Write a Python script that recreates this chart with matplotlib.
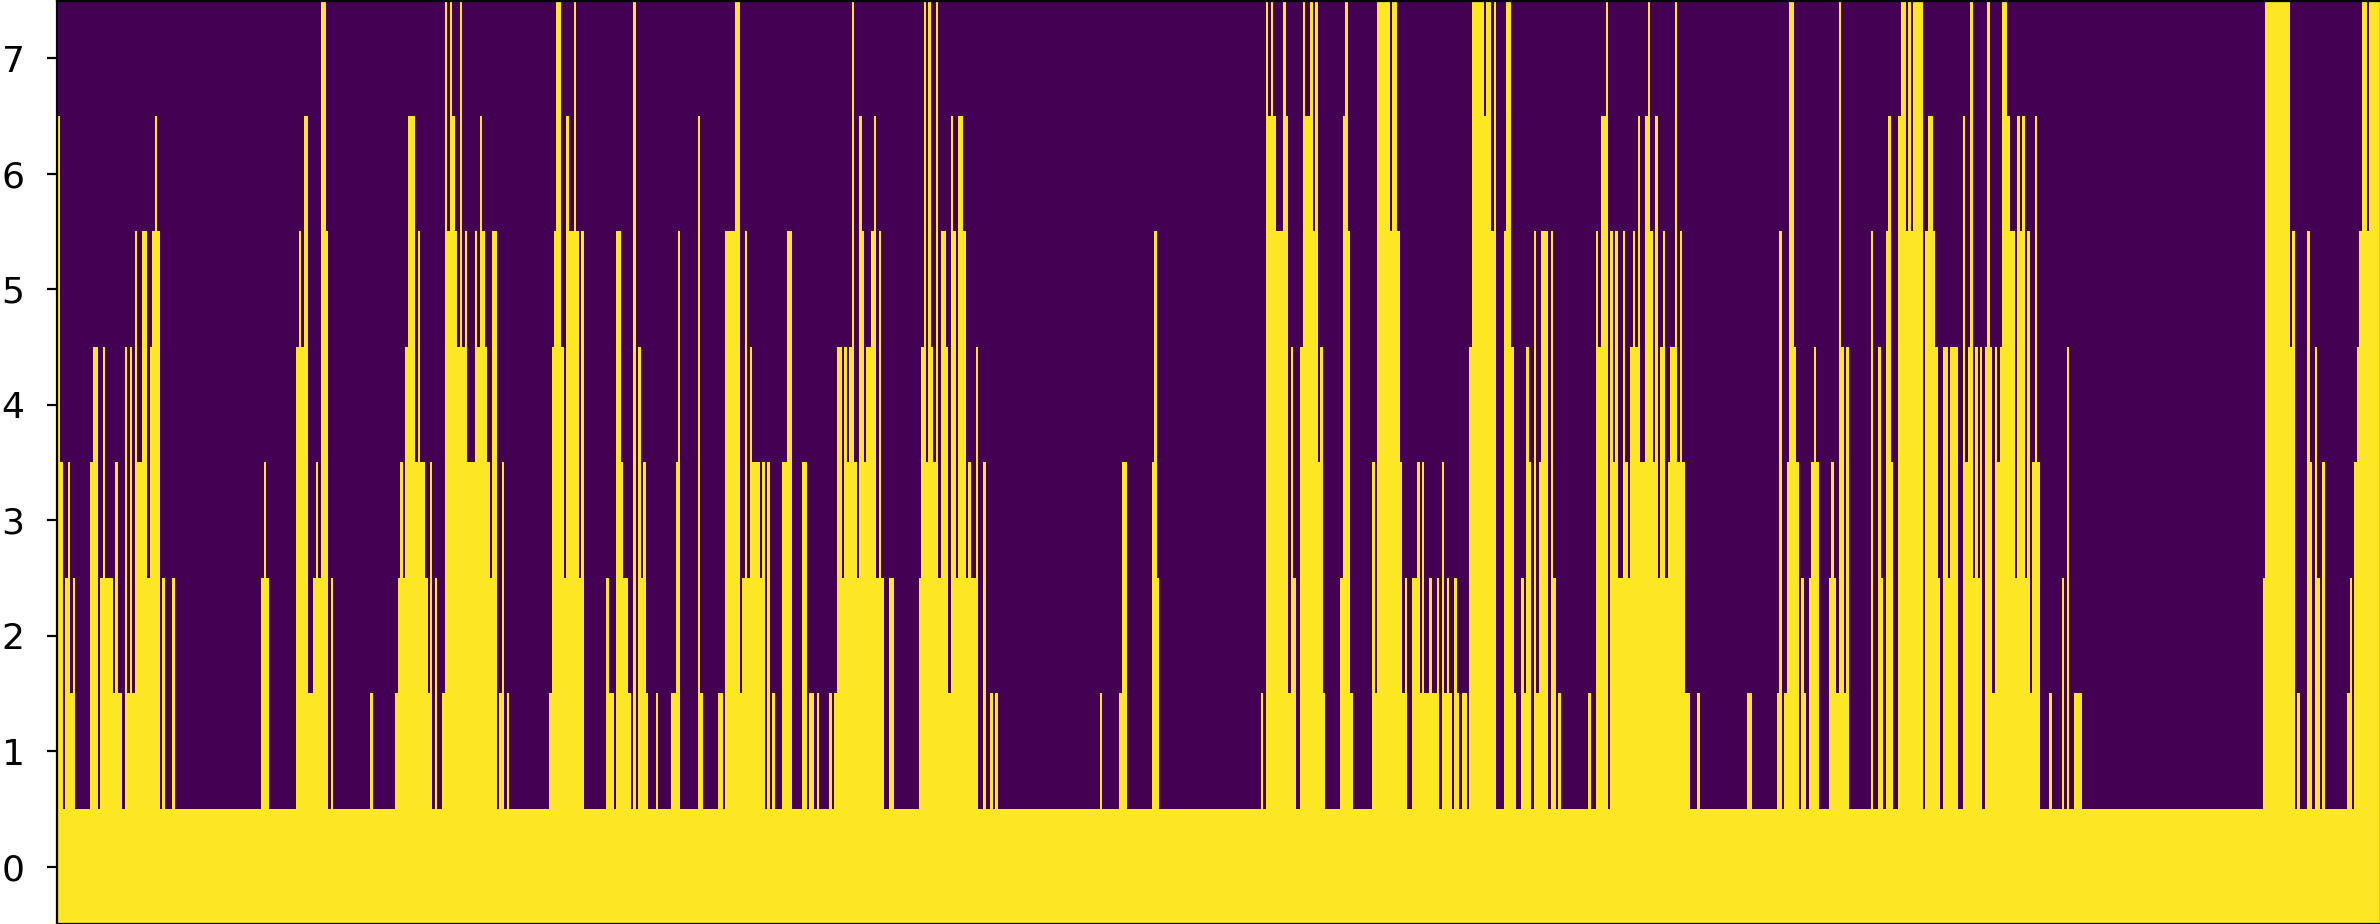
import matplotlib
matplotlib.use("Agg")
import matplotlib.pyplot as plt
import numpy as np

N_COLS = 937
N_ROWS = 8

# first column of each run, and how many rows are filled in that run
run_starts = [
    0, 1, 2, 3, 4, 5, 6, 7, 13, 14, 16, 17, 18, 19, 22, 23, 24, 26, 27, 28, 29, 30, 31, 32, 34, 36, 37, 38, 39, 40, 41, 42, 43, 46, 47,
    82, 83, 84, 85, 96, 97, 98, 99, 101, 103, 104, 105, 106, 108, 109, 110, 111, 126, 127, 136, 137, 138, 139, 140, 141, 144, 145, 146, 148, 149, 150, 151, 152, 153, 155, 156, 157,
    158, 159, 160, 161, 162, 163, 164, 165, 168, 169, 170, 171, 172, 173, 174, 175, 177, 178, 179, 180, 181, 182, 198, 199, 200, 201, 203, 204, 205, 206, 208, 209, 210, 211, 212, 221, 222, 224, 225, 227, 228, 230, 231, 232, 233, 234, 235, 236, 237, 238,
    241, 242, 247, 249, 250, 251, 258, 259, 260, 266, 268, 269, 273, 275, 276, 277, 278, 279, 280, 283, 284, 285, 286, 287, 288, 289, 292, 294, 296, 300, 302, 303, 305, 306, 307, 311, 312, 313, 314, 316, 317, 318, 319,
    320, 321, 322, 323, 324, 325, 326, 328, 329, 330, 331, 332, 333, 335, 337, 347, 348, 349, 350, 351, 352, 353, 354, 355, 356, 358, 359, 360, 361, 362, 363, 365, 366, 367, 368, 370, 371, 373, 374, 376, 377, 378, 379,
    420, 421, 428, 429, 431, 441, 442, 443, 444,
    485, 486, 487, 488, 489, 490, 491, 494, 495, 496, 497, 498, 499, 501, 502, 503, 505, 506, 507, 508, 509, 510, 511, 517, 518, 519, 520, 521, 522, 530, 531, 532, 537, 538, 540, 541, 542, 543, 544, 546, 548, 549, 550, 551, 553, 554, 556, 557, 558, 559, 560, 561,
    562, 563, 564, 565, 566, 568, 569, 570, 575, 576, 578, 579, 580, 583, 584, 586, 587, 588, 590, 591, 592, 593, 594, 595, 596, 597, 598, 601, 602, 603, 604, 605, 606, 617, 618, 620, 621, 622, 624, 625, 626, 627, 628, 629, 631, 632, 633, 634, 635, 636, 637, 638, 640, 641,
    642, 643, 644, 645, 646, 647, 648, 649, 650, 652, 653, 654, 655, 656, 658, 661, 662, 681, 683, 693, 694, 695, 696, 697, 698, 700, 701, 702, 703, 704, 705, 706, 707, 708, 709, 710, 714, 715, 716, 717, 718, 719, 720, 721, 722,
    731, 732, 734, 735, 736, 737, 738, 739, 740, 742, 743, 745, 746, 747, 748, 752, 753, 754, 756, 757, 758, 759, 760, 762, 763, 766, 768, 769, 770, 771, 772, 773, 774, 775, 776, 777, 778, 779, 780, 781, 782, 783, 784, 786, 787, 789, 790, 791, 792, 793, 794, 795, 796, 797, 798, 799, 803,
    804, 808, 809, 810, 811, 813, 816,
    889, 890, 900, 901, 902, 903, 904, 907, 908, 909, 910, 911, 912, 913, 914, 923, 924, 925, 926, 927, 928, 929, 931, 932,
]
run_heights = [
    7, 4, 1, 3, 4, 2, 3, 1, 4, 5, 1, 3, 5, 3, 2, 4, 2, 1, 5, 2, 5, 2, 6, 4, 6, 3, 5, 6, 7, 6, 1, 3, 1, 3, 1,
    3, 4, 3, 1, 5, 6, 5, 7, 2, 3, 4, 3, 8, 6, 1, 3, 1, 2, 1, 2, 3, 4, 3, 5, 7, 4, 6, 4, 3, 2, 4, 1, 3, 1, 2, 8, 6,
    8, 7, 6, 5, 8, 5, 6, 4, 6, 5, 7, 6, 5, 4, 3, 6, 1, 2, 4, 1, 2, 1, 2, 5, 6, 8, 5, 3, 7, 6, 8, 6, 3, 6, 1, 3, 2, 1, 6, 4, 3, 2, 1, 8, 1, 5, 3, 4, 2, 1,
    2, 1, 2, 4, 6, 1, 7, 2, 1, 2, 1, 6, 8, 2, 3, 6, 3, 5, 4, 3, 4, 1, 4, 1, 2, 1, 4, 6, 1, 4, 1, 2, 1, 2, 1, 2, 1, 2, 5, 3, 5, 4, 5,
    8, 4, 3, 7, 6, 4, 5, 6, 7, 3, 6, 3, 1, 3, 1, 3, 5, 8, 4, 8, 5, 4, 8, 3, 6, 5, 2, 7, 6, 3, 7, 6, 3, 4, 3, 5, 1, 4, 1, 2, 1, 2, 1,
    2, 1, 2, 4, 1, 4, 6, 3, 1,
    2, 1, 8, 7, 8, 7, 6, 8, 7, 2, 5, 3, 1, 5, 8, 7, 8, 6, 8, 4, 5, 2, 1, 3, 7, 8, 6, 2, 1, 4, 2, 8, 6, 8, 6, 4, 2, 3, 1, 3, 4, 2, 4, 2, 3, 2, 3, 1, 4, 2, 3, 2,
    1, 3, 2, 1, 2, 1, 5, 8, 7, 8, 6, 8, 1, 6, 8, 5, 2, 1, 3, 2, 5, 4, 1, 6, 2, 4, 6, 1, 6, 3, 1, 2, 1, 2, 1, 6, 5, 7, 8, 1, 6, 4, 6, 3, 6, 4, 3, 5, 6, 5, 7, 4, 7, 8,
    6, 4, 7, 3, 5, 6, 3, 4, 5, 8, 4, 6, 4, 2, 1, 2, 1, 2, 1, 2, 6, 1, 2, 4, 8, 5, 4, 1, 3, 2, 1, 3, 4, 5, 4, 1, 3, 4, 3, 2, 8, 5, 2, 5, 1,
    6, 1, 5, 3, 1, 6, 7, 4, 1, 7, 8, 6, 8, 6, 8, 1, 6, 7, 6, 5, 3, 1, 5, 3, 5, 1, 7, 4, 5, 8, 3, 5, 3, 5, 1, 5, 8, 5, 2, 5, 4, 5, 8, 7, 6, 3, 7, 6, 7, 3, 6, 2, 4, 7, 4, 1, 2,
    1, 3, 1, 5, 1, 2, 1,
    3, 8, 5, 6, 1, 2, 1, 6, 4, 1, 5, 3, 1, 4, 1, 2, 3, 1, 4, 5, 6, 8, 6, 8,
]
y_ticks = [0, 1, 2, 3, 4, 5, 6, 7]

# expand the runs to one height per column, then to a binary rows x columns grid
run_lengths = np.diff(run_starts + [N_COLS])
col_heights = np.repeat(run_heights, run_lengths)
grid = (np.arange(N_ROWS)[:, None] < col_heights[None, :]).astype(int)

W, H, DPI = 2380, 924, 200
fig = plt.figure(figsize=(W / DPI, H / DPI), dpi=DPI)
# axes run just past the figure edge on the right and bottom, the spines get cut there
ax = fig.add_axes([56.5 / W, -0.3 / H, (2380.8 - 56.5) / W, (924.3 - 0.5) / H])
ax.imshow(grid, aspect="auto", origin="lower", interpolation="nearest", cmap="viridis")
ax.set_xlim(-1.1, N_COLS - 0.8)
ax.set_xticks([])
ax.set_yticks(y_ticks)
ax.tick_params(axis="y", labelsize=13, pad=8)
fig.savefig("out.png", dpi=DPI)
plt.close(fig)
